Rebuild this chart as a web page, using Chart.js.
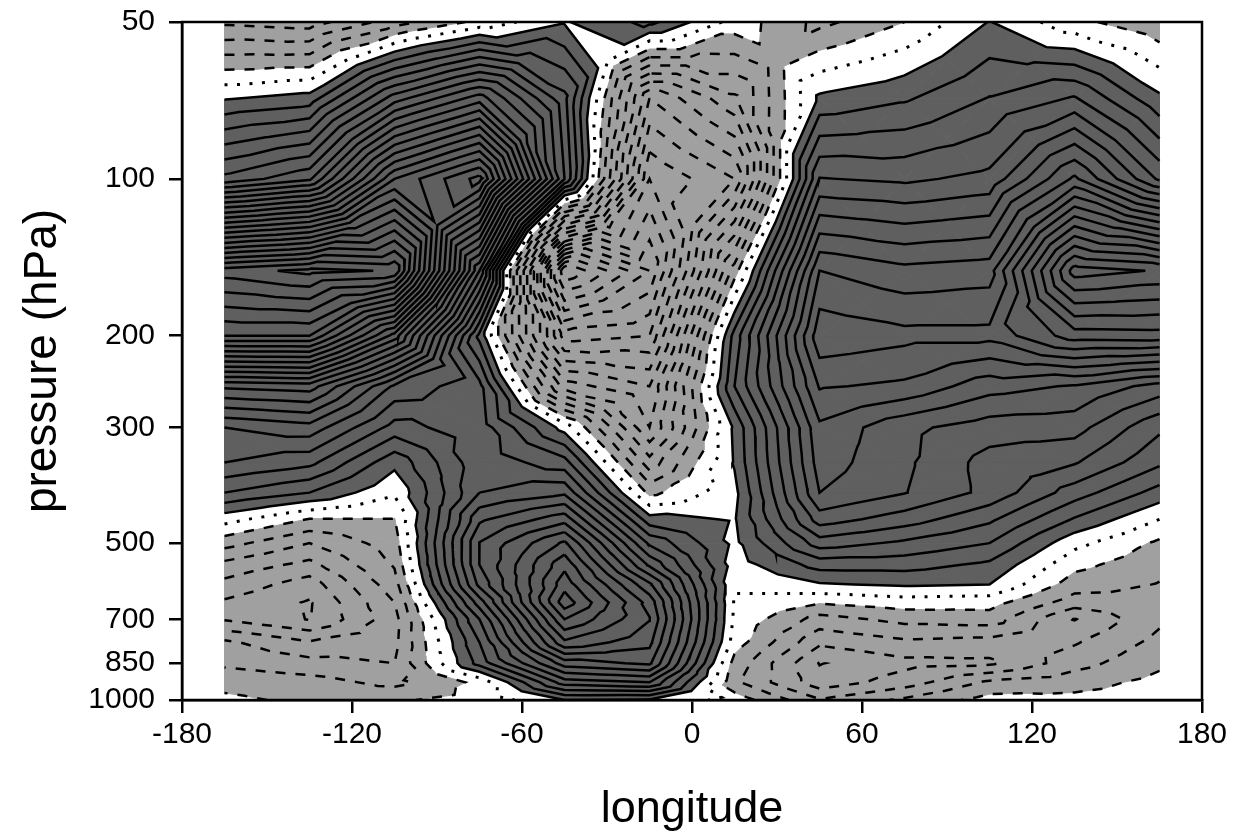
<!DOCTYPE html>
<html>
<head>
<meta charset="utf-8">
<script src="https://cdn.jsdelivr.net/npm/chart.js@4"></script>
<style>
  html, body { margin: 0; background: #fff; }
</style>
</head>
<body>
<canvas id="myChart" width="1235" height="837"></canvas>
<script>
// Field, in contour units, one list per pressure level
const lons = [-165, -135, -105, -75, -45, -15, 15, 45, 75, 105, 135, 165];
const pressures = [50, 70, 100, 150, 200, 250, 300, 350, 400, 450, 500, 550, 600, 650, 700, 775, 850, 925, 1000];

const p50 = [-4.2, -4.5, -2.5, -0.7, 0.9, 2.3, -0.4, -2.3, -1, 1.05, -0.7, -1.8];
const p70 = [0.9, 1.4, 6.5, 9.5, 4.3, -7, -4.2, 1.2, 1.85, 3.05, 4.1, 1.2];
const p100 = [6.3, 7.8, 16, 19.4, 5, -10, -8, 5.05, 4.8, 5.3, 9.2, 4.8];
const p150 = [24.5, 25.3, 24.9, 8, -17, -13, -1.5, 10, 9.3, 9.55, 18.5, 17.9];
const p200 = [20, 20, 13.6, 1.7, -10.5, -10, 2.4, 11.7, 11.3, 11.3, 13.5, 13.6];
const p250 = [10.2, 10.5, 5.8, 4.3, -5.5, -7, 3, 10.1, 9.8, 8.4, 7.9, 6.6];
const p300 = [6, 6.6, 3.6, 4.6, 0.6, -6, 1.2, 8.8, 7.25, 6.5, 6.4, 4.2];
const p350 = [5, 4.3, 1.3, 4.7, 3.4, -3.6, 1.1, 8.5, 7.2, 5.6, 5.1, 3.2];
const p400 = [3, 2, 0.15, 5, 5.8, -1.3, 0.7, 8, 7.05, 5.7, 3.5, 1.6];
const p450 = [0.4, -1.05, -1.05, 6.8, 8.6, 1.4, 0.9, 6.5, 5.5, 4.2, 1.9, 0];
const p500 = [-1.6, -3, -1.5, 8.05, 11.2, 3.8, 0.75, 4.5, 3.8, 3, 0.3, -1.2];
const p550 = [-3.3, -4.3, -1.9, 8, 12.7, 5.8, 0.5, 2.4, 2.4, 1.8, -0.7, -1.7];
const p600 = [-4.3, -5.5, -2.4, 7.3, 13.6, 8.2, 0.1, 0.9, 1.15, 1, -1.5, -2.05];
const p650 = [-5.15, -6.1, -3, 5.5, 14.6, 9.6, -0.1, -0.9, -0.5, -0.6, -2.5, -2.3];
const p700 = [-5.1, -6.05, -3.4, 4, 13, 10.05, -0.2, -2.4, -1.7, -1.5, -4.05, -2.2];
const p775 = [-2.8, -3.9, -3.3, 3, 10.8, 9.3, -0.5, -3.8, -3.2, -3.4, -3.1, -1.7];
const p850 = [-2.2, -2.65, -3, 2.4, 7.5, 8.2, -1.4, -5.05, -4.3, -4.2, -2.4, -1.2];
const p925 = [-1.3, -1.6, -2.3, -0.74, 4.5, 5, -1.8, -4.6, -3.5, -1.8, -1.4, -0.7];
const p1000 = [-0.8, -1.2, -1.1, -0.7, 1, 0.9, -0.4, -2.9, -1.8, -0.6, -0.7, -0.5];

const field = [p50, p70, p100, p150, p200, p250, p300, p350, p400, p450, p500, p550, p600, p650, p700, p775, p850, p925, p1000];

const xTicks = [-180, -120, -60, 0, 60, 120, 180];
const yTicks = [50, 100, 200, 300, 500, 700, 850, 1000];

// Every grid cell is cut in 4 triangles round its centre, so contours have no saddle trouble
const triangles = [];
for (let j = 0; j < pressures.length - 1; j++) {
    for (let i = 0; i < lons.length - 1; i++) {
        const corner = (a, b) => ({
            id: a + "_" + b,
            x: lons[a],
            y: Math.log10(pressures[b]),
            v: field[b][a]
        });
        const tl = corner(i, j), tr = corner(i + 1, j), bl = corner(i, j + 1), br = corner(i + 1, j + 1);
        const c = {
            id: "c" + i + "_" + j,
            x: (tl.x + tr.x) / 2,
            y: (tl.y + bl.y) / 2,
            v: (tl.v + tr.v + bl.v + br.v) / 4
        };
        triangles.push([tl, tr, c], [tr, br, c], [br, bl, c], [bl, tl, c]);
    }
}

function cross(a, b, level) {
    const t = (level - a.v) / (b.v - a.v);
    return { x: a.x + t * (b.x - a.x), y: Math.pow(10, a.y + t * (b.y - a.y)) };
}

// One contour level as polylines with gaps
function contour(level) {
    const segs = [];
    const byEdge = {};
    triangles.forEach(tri => {
        const hits = [];
        for (let k = 0; k < 3; k++) {
            const a = tri[k], b = tri[(k + 1) % 3];
            if ((a.v >= level) !== (b.v >= level)) {
                const key = a.id < b.id ? a.id + "|" + b.id : b.id + "|" + a.id;
                hits.push({ key, pt: cross(a, b, level) });
            }
        }
        if (hits.length === 2) {
            const s = { hits, used: false };
            segs.push(s);
            hits.forEach(h => (byEdge[h.key] = byEdge[h.key] || []).push(s));
        }
    });
    const out = [];
    const walk = (s, from) => {
        const line = [];
        let cur = s, idx = from;
        while (cur && !cur.used) {
            cur.used = true;
            line.push(cur.hits[idx].pt);
            const next = cur.hits[1 - idx];
            line.push(next.pt);
            const other = byEdge[next.key].find(o => o !== cur && !o.used);
            if (!other) break;
            idx = other.hits[0].key === next.key ? 0 : 1;
            cur = other;
        }
        return line;
    };
    // open ends first, then closed loops
    segs.forEach(s => {
        if (s.used) return;
        const end = s.hits.findIndex(h => byEdge[h.key].length === 1);
        if (end >= 0) out.push(walk(s, end));
    });
    segs.forEach(s => {
        if (!s.used) out.push(walk(s, 0));
    });
    const pts = [];
    out.forEach(line => {
        line.forEach(p => pts.push(p));
        pts.push({ x: NaN, y: NaN });
    });
    return pts;
}

// Part of the triangles on one side of a level, for the shading
function shade(level, above) {
    const pts = [];
    const inside = v => (above ? v >= level : v <= level);
    triangles.forEach(tri => {
        const poly = [];
        for (let k = 0; k < 3; k++) {
            const a = tri[k], b = tri[(k + 1) % 3];
            if (inside(a.v)) poly.push({ x: a.x, y: Math.pow(10, a.y) });
            if (inside(a.v) !== inside(b.v)) poly.push(cross(a, b, level));
        }
        if (poly.length > 2) {
            poly.forEach(p => pts.push(p));
            pts.push(poly[0]);
            pts.push({ x: NaN, y: NaN });
        }
    });
    return pts;
}

const datasets = [
    { data: shade(1, true), fill: "shape", backgroundColor: "#5f5f5f", borderColor: "#5f5f5f", borderWidth: 1, order: 2 },
    { data: shade(-1, false), fill: "shape", backgroundColor: "#a0a0a0", borderColor: "#a0a0a0", borderWidth: 1, order: 2 }
];
for (let level = -20; level <= 26; level++) {
    const ds = { data: contour(level), borderColor: "#000", borderWidth: 2.5, order: 1, fill: false };
    if (level === 0) {
        ds.borderDash = [3, 9.5];
        ds.borderWidth = 3;
    } else if (level < 0) {
        ds.borderDash = [10, 10];
    }
    datasets.push(ds);
}

const frame = {
    id: "frame",
    afterDraw(chart) {
        const a = chart.chartArea, ctx = chart.ctx;
        ctx.save();
        ctx.strokeStyle = "#000";
        ctx.lineWidth = 2.5;
        ctx.strokeRect(a.left, a.top, a.right - a.left, a.bottom - a.top);
        ctx.restore();
    }
};

const config = {
    type: "scatter",
    data: { datasets },
    options: {
        responsive: false,
        animation: false,
        layout: { padding: { top: 22, right: 33 } },
        elements: { point: { radius: 0 }, line: { tension: 0 } },
        datasets: { scatter: { showLine: true, spanGaps: false, pointRadius: 0 } },
        plugins: { legend: { display: false }, tooltip: { enabled: false } },
        scales: {
            x: {
                type: "linear",
                min: -180,
                max: 180,
                afterBuildTicks: s => { s.ticks = xTicks.map(v => ({ value: v })); },
                afterFit: s => { s.height = 137; s.paddingLeft = 0; s.paddingRight = 0; },
                grid: { drawOnChartArea: false, tickLength: 13, color: "#000", lineWidth: 2.5 },
                border: { color: "#000", width: 2.5 },
                ticks: { color: "#000", font: { family: "Liberation Sans", size: 30 }, padding: 4, maxRotation: 0, autoSkip: false },
                title: { display: true, text: "longitude", color: "#000", font: { family: "Liberation Sans", size: 45 }, padding: { top: 0, bottom: 0 } }
            },
            y: {
                type: "logarithmic",
                reverse: true,
                min: 50,
                max: 1000,
                afterBuildTicks: s => { s.ticks = yTicks.map(v => ({ value: v })); },
                afterFit: s => { s.width = 182; s.paddingTop = 0; s.paddingBottom = 0; },
                grid: { drawOnChartArea: false, tickLength: 13, color: "#000", lineWidth: 2.5 },
                border: { color: "#000", width: 2.5 },
                ticks: { color: "#000", font: { family: "Liberation Sans", size: 30 }, padding: 14, autoSkip: false, callback: v => String(v) },
                title: { display: true, text: "pressure (hPa)", color: "#000", font: { family: "Liberation Sans", size: 46 }, padding: { top: 16, bottom: 0 } }
            }
        }
    },
    plugins: [frame]
};

const myChart = new Chart(document.getElementById("myChart"), config);
</script>
</body>
</html>
